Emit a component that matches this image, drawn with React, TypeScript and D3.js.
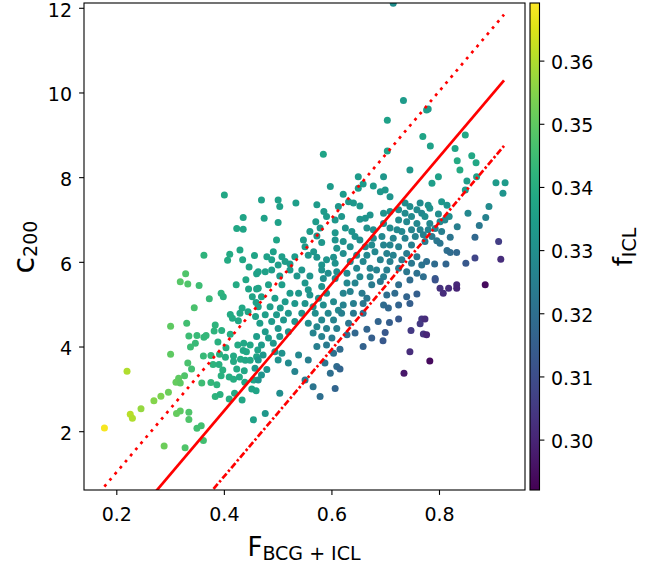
import React from 'react';
import * as d3 from 'd3';

// ---- data ----
const xTicks = [0.2, 0.4, 0.6, 0.8];
const yTicks = [2, 4, 6, 8, 10, 12];
const cbTicks = [0.30, 0.31, 0.32, 0.33, 0.34, 0.35, 0.36];
const xDomain = [0.139, 0.959];
const yDomain = [0.623, 12.125];
const cDomain = [0.2921, 0.3692];

// fit: c200 = slope * F + intercept (+/- scatter offset)
const fitSlope = 15.0;
const fitIntercept = -3.5;
const fitOffsets = [1.55, 0, -1.55];
const fitRange = [0.1, 0.92];

// [F_BCG+ICL, c200, f_ICL]
const points: [number, number, number][] = [
[0.400,7.59,0.338],[0.435,7.06,0.337],[0.423,6.80,0.338],[0.435,6.78,0.337],[0.429,6.29,0.338],[0.362,6.17,0.342],[0.410,6.19,0.339],[0.406,6.05,0.339],[0.434,6.06,0.338],[0.456,6.16,0.337],
[0.446,5.89,0.337],[0.460,5.73,0.336],[0.328,5.73,0.348],[0.318,5.54,0.349],[0.332,5.49,0.348],[0.353,5.45,0.345],[0.440,5.59,0.338],[0.422,5.47,0.339],[0.445,5.37,0.337],[0.460,5.37,0.336],
[0.372,5.14,0.344],[0.394,5.27,0.342],[0.398,5.19,0.341],[0.452,5.19,0.337],[0.459,5.05,0.336],[0.344,4.93,0.347],[0.433,4.92,0.338],[0.429,4.80,0.338],[0.411,4.77,0.339],[0.415,4.68,0.339],
[0.444,4.83,0.337],[0.458,4.72,0.336],[0.426,4.62,0.338],[0.300,4.49,0.350],[0.330,4.56,0.346],[0.383,4.52,0.342],[0.381,4.38,0.342],[0.395,4.39,0.341],[0.334,4.26,0.345],[0.349,4.27,0.344],
[0.362,4.23,0.343],[0.366,4.27,0.343],[0.346,4.09,0.344],[0.337,4.00,0.345],[0.411,4.30,0.340],[0.388,4.12,0.341],[0.403,3.98,0.340],[0.425,4.05,0.339],[0.436,4.09,0.338],[0.435,3.92,0.338],
[0.441,3.89,0.338],[0.448,4.05,0.338],[0.462,3.93,0.337],[0.300,3.83,0.350],[0.361,3.79,0.344],[0.375,3.80,0.343],[0.391,3.83,0.341],[0.402,3.76,0.340],[0.417,3.79,0.339],[0.430,3.71,0.339],
[0.439,3.69,0.338],[0.448,3.69,0.338],[0.460,3.77,0.337],[0.332,3.62,0.347],[0.339,3.48,0.346],[0.379,3.59,0.342],[0.390,3.59,0.341],[0.397,3.46,0.341],[0.417,3.66,0.339],[0.423,3.48,0.339],
[0.437,3.44,0.338],[0.326,3.32,0.348],[0.315,3.26,0.350],[0.310,3.17,0.351],[0.318,3.15,0.350],[0.358,3.15,0.345],[0.375,3.16,0.343],[0.386,3.11,0.342],[0.394,3.32,0.341],[0.409,3.29,0.340],
[0.417,3.24,0.340],[0.428,3.29,0.339],[0.438,3.17,0.338],[0.454,3.22,0.337],[0.451,3.01,0.337],[0.459,2.97,0.337],[0.296,2.93,0.352],[0.282,2.84,0.354],[0.269,2.73,0.355],[0.219,3.43,0.360],
[0.245,2.54,0.357],[0.225,2.41,0.361],[0.229,2.32,0.360],[0.177,2.09,0.368],[0.334,2.46,0.348],[0.318,2.49,0.350],[0.311,2.43,0.351],[0.334,2.29,0.348],[0.383,2.83,0.342],[0.392,2.88,0.341],
[0.409,2.77,0.340],[0.419,2.91,0.339],[0.433,2.75,0.338],[0.454,2.28,0.336],[0.349,2.08,0.346],[0.357,2.14,0.346],[0.361,1.79,0.346],[0.288,1.66,0.352],[0.327,1.62,0.348],
[0.597,7.79,0.334],[0.469,7.47,0.336],[0.500,7.47,0.336],[0.503,7.32,0.336],[0.533,7.40,0.335],[0.572,7.36,0.334],[0.585,7.20,0.334],[0.612,7.32,0.333],[0.590,7.08,0.334],[0.606,7.00,0.333],
[0.500,6.94,0.336],[0.570,6.96,0.334],[0.578,6.81,0.333],[0.559,6.73,0.334],[0.606,6.70,0.333],[0.572,6.62,0.333],[0.497,6.53,0.337],[0.547,6.53,0.334],[0.581,6.47,0.333],[0.606,6.53,0.332],
[0.550,6.37,0.334],[0.566,6.25,0.333],[0.609,6.33,0.332],[0.491,6.25,0.336],[0.479,6.13,0.336],[0.507,6.13,0.335],[0.531,6.13,0.334],[0.556,6.17,0.333],[0.572,6.12,0.332],[0.590,6.06,0.332],
[0.603,6.12,0.331],[0.488,6.06,0.336],[0.513,6.02,0.335],[0.522,5.96,0.334],[0.500,5.94,0.335],[0.581,5.94,0.332],[0.606,5.98,0.331],[0.463,5.78,0.336],[0.476,5.78,0.336],[0.488,5.82,0.335],
[0.522,5.82,0.334],[0.535,5.68,0.333],[0.544,5.82,0.333],[0.559,5.68,0.332],[0.581,5.82,0.331],[0.593,5.74,0.330],[0.609,5.78,0.330],[0.503,5.68,0.334],[0.584,5.62,0.330],[0.606,5.62,0.329],
[0.649,8.02,0.334],[0.696,8.02,0.333],[0.745,8.18,0.333],[0.621,7.61,0.334],[0.649,7.75,0.334],[0.690,7.67,0.333],[0.699,7.71,0.333],[0.708,7.55,0.332],[0.640,7.40,0.333],[0.631,7.43,0.333],
[0.652,7.33,0.333],[0.671,7.12,0.332],[0.618,7.08,0.333],[0.652,7.02,0.332],[0.662,7.04,0.332],[0.696,7.16,0.331],[0.708,7.20,0.331],[0.724,7.24,0.330],[0.736,7.40,0.330],[0.745,7.32,0.330],
[0.764,7.40,0.329],[0.758,7.24,0.329],[0.736,7.16,0.329],[0.748,7.08,0.329],[0.767,7.16,0.328],[0.724,7.00,0.329],[0.739,6.96,0.328],[0.758,6.92,0.328],[0.625,6.81,0.332],[0.637,6.73,0.332],
[0.643,6.61,0.331],[0.665,6.81,0.331],[0.677,6.77,0.330],[0.696,6.92,0.330],[0.708,6.81,0.329],[0.721,6.77,0.328],[0.730,6.73,0.328],[0.748,6.77,0.327],[0.764,6.77,0.326],[0.621,6.49,0.331],
[0.652,6.53,0.330],[0.677,6.57,0.329],[0.693,6.61,0.328],[0.714,6.57,0.327],[0.736,6.57,0.326],[0.755,6.61,0.326],[0.770,6.65,0.325],[0.634,6.37,0.330],[0.662,6.37,0.329],[0.674,6.41,0.329],
[0.696,6.41,0.327],[0.708,6.41,0.327],[0.724,6.37,0.326],[0.748,6.41,0.325],[0.621,6.21,0.330],[0.646,6.17,0.329],[0.665,6.17,0.328],[0.680,6.25,0.328],[0.702,6.21,0.326],[0.714,6.17,0.326],
[0.739,6.21,0.324],[0.758,6.13,0.323],[0.634,6.02,0.329],[0.658,6.02,0.328],[0.690,6.06,0.326],[0.708,6.02,0.325],[0.730,6.06,0.324],[0.748,5.98,0.323],[0.767,5.94,0.322],[0.646,5.86,0.328],
[0.671,5.86,0.327],[0.683,5.82,0.326],[0.702,5.82,0.325],[0.724,5.86,0.324],[0.739,5.78,0.323],[0.628,5.74,0.329],[0.652,5.66,0.328],[0.671,5.66,0.327],[0.696,5.66,0.325],[0.758,5.74,0.321],
[0.770,5.66,0.320],[0.658,7.85,0.334],[0.677,7.80,0.334],[0.474,7.04,0.336],
[0.776,9.60,0.335],[0.848,9.01,0.338],[0.783,8.75,0.336],[0.829,8.69,0.337],[0.860,8.52,0.338],[0.833,8.40,0.339],[0.868,8.35,0.338],[0.838,8.18,0.339],[0.798,8.02,0.336],[0.851,7.92,0.335],
[0.869,8.02,0.336],[0.905,7.88,0.334],[0.922,7.88,0.334],[0.786,7.87,0.335],[0.848,7.71,0.334],[0.918,7.63,0.332],[0.804,7.43,0.333],[0.779,7.35,0.331],[0.782,7.28,0.331],[0.814,7.35,0.332],
[0.892,7.32,0.329],[0.798,7.14,0.330],[0.818,7.08,0.330],[0.773,7.08,0.330],[0.853,7.16,0.328],[0.886,7.06,0.326],[0.782,6.92,0.328],[0.801,6.96,0.328],[0.810,7.00,0.328],[0.833,6.84,0.325],
[0.874,6.87,0.323],[0.779,6.77,0.326],[0.792,6.80,0.326],[0.804,6.73,0.325],[0.820,6.59,0.322],[0.786,6.61,0.324],[0.795,6.51,0.323],[0.773,6.49,0.324],[0.801,6.45,0.322],[0.866,6.59,0.318],
[0.910,6.49,0.306],[0.814,6.28,0.320],[0.820,6.23,0.319],[0.832,6.23,0.318],[0.866,6.10,0.308],[0.914,6.07,0.302],[0.776,6.02,0.320],[0.791,5.96,0.319],[0.812,5.96,0.317],[0.849,5.98,0.313],
[0.792,5.62,0.314],
[0.714,12.12,0.330],[0.733,9.82,0.334],[0.779,9.62,0.334],[0.703,9.355,0.336],[0.769,8.97,0.337],[0.584,8.55,0.337],[0.703,8.63,0.336],
[0.463,5.39,0.337],[0.482,5.47,0.336],[0.507,5.47,0.335],[0.550,5.51,0.333],[0.556,5.35,0.333],[0.581,5.43,0.331],[0.590,5.27,0.330],[0.522,5.27,0.334],[0.538,5.27,0.333],[0.559,5.23,0.332],
[0.575,5.15,0.331],[0.469,5.19,0.336],[0.494,5.15,0.335],[0.513,5.07,0.334],[0.531,5.03,0.333],[0.550,5.03,0.332],[0.565,4.95,0.331],[0.584,4.99,0.330],[0.603,5.07,0.329],[0.612,4.87,0.328],
[0.463,4.95,0.336],[0.485,4.95,0.335],[0.504,4.92,0.334],[0.476,4.76,0.335],[0.497,4.76,0.334],[0.519,4.80,0.333],[0.544,4.80,0.332],[0.569,4.80,0.330],[0.593,4.80,0.328],[0.581,4.64,0.328],
[0.603,4.64,0.327],[0.466,4.56,0.335],[0.488,4.60,0.334],[0.510,4.64,0.333],[0.531,4.60,0.332],[0.556,4.56,0.330],[0.572,4.48,0.328],[0.590,4.44,0.326],[0.609,4.44,0.325],[0.500,4.44,0.333],
[0.519,4.36,0.332],[0.476,4.36,0.334],[0.460,4.25,0.335],[0.482,4.21,0.334],[0.503,4.25,0.333],[0.565,4.33,0.327],[0.581,4.25,0.326],[0.600,4.21,0.324],[0.469,4.05,0.334],[0.491,4.09,0.333],
[0.572,4.01,0.325],[0.590,4.05,0.324],[0.494,3.89,0.332],[0.507,3.85,0.331],[0.472,3.81,0.333],[0.538,3.81,0.328],[0.603,3.85,0.321],[0.463,3.695,0.333],[0.500,3.695,0.331],[0.519,3.62,0.329],
[0.556,3.695,0.325],[0.587,3.62,0.322],[0.457,3.50,0.333],[0.479,3.47,0.332],[0.531,3.42,0.327],[0.597,3.38,0.320],[0.609,3.54,0.319],[0.469,3.34,0.332],[0.463,3.22,0.332],[0.550,3.22,0.324],
[0.565,3.06,0.322],[0.606,3.02,0.317],[0.503,2.91,0.330],[0.578,2.83,0.320],[0.476,2.43,0.333],
[0.628,5.51,0.328],[0.643,5.51,0.327],[0.674,5.47,0.324],[0.690,5.55,0.323],[0.724,5.47,0.320],[0.745,5.58,0.319],[0.621,5.27,0.327],[0.634,5.31,0.326],[0.656,5.27,0.324],[0.665,5.15,0.323],
[0.702,5.23,0.320],[0.717,5.27,0.319],[0.739,5.19,0.317],[0.758,5.25,0.315],[0.621,4.99,0.326],[0.640,5.03,0.325],[0.658,5.03,0.323],[0.696,4.99,0.319],[0.705,4.92,0.318],[0.724,4.99,0.317],
[0.745,5.03,0.315],[0.618,4.80,0.325],[0.640,4.80,0.323],[0.658,4.80,0.321],[0.631,4.56,0.322],[0.686,4.60,0.317],[0.707,4.58,0.315],[0.724,4.66,0.313],[0.767,4.66,0.304],[0.764,4.55,0.305],
[0.628,4.29,0.320],[0.643,4.33,0.318],[0.665,4.42,0.317],[0.699,4.34,0.313],[0.747,4.39,0.305],[0.770,4.31,0.303],[0.674,4.21,0.315],[0.695,4.15,0.313],[0.658,4.01,0.316],[0.615,3.95,0.319],
[0.745,3.89,0.302],[0.615,3.48,0.317],[0.734,3.38,0.297],
[0.792,5.58,0.312],[0.801,5.39,0.303],[0.807,5.27,0.302],[0.817,5.39,0.302],[0.832,5.47,0.301],[0.832,5.39,0.300],[0.885,5.47,0.294],[0.773,4.66,0.302],[0.776,4.29,0.300],[0.782,3.67,0.294],
];

// ---- layout ----
const W = 660, H = 567;
const plot = { left: 84, right: 525, top: 3, bottom: 490 };
const cbar = { left: 530, right: 539.5, top: 3, bottom: 490 };
const FONT = '"DejaVu Sans", sans-serif';
const tickFs = 19;
const labelFs = 26;
const subFs = 19;
const tickLen = 4.9;

export default function App() {
  const x = d3.scaleLinear().domain(xDomain).range([plot.left, plot.right]);
  const y = d3.scaleLinear().domain(yDomain).range([plot.bottom, plot.top]);
  const cs = d3.scaleLinear().domain(cDomain).range([cbar.bottom, cbar.top]);
  const color = d3.scaleSequential(d3.interpolateViridis).domain(cDomain);

  const fitLines = fitOffsets.map((off) =>
    d3.line<number>().x((f) => x(f)).y((f) => y(fitSlope * f + fitIntercept + off))(fitRange) as string
  );
  const dash = ['2.8,5.2', 'none', '6.5,2.4,2.4,2.4'];

  const stops = d3.range(0, 1.0001, 0.05);

  return (
    <svg width={W} height={H} style={{ position: 'absolute', left: 0, top: 0, background: '#fff' }}
      fontFamily={FONT}>
      <defs>
        <clipPath id="plotclip">
          <rect x={plot.left} y={plot.top} width={plot.right - plot.left} height={plot.bottom - plot.top} />
        </clipPath>
        <linearGradient id="cbgrad" x1="0" y1="1" x2="0" y2="0">
          {stops.map((t) => (
            <stop key={t} offset={t} stopColor={d3.interpolateViridis(t)} />
          ))}
        </linearGradient>
      </defs>
      <rect x={0} y={0} width={W} height={H} fill="#fff" />
      <g clipPath="url(#plotclip)">
        {points.map((p, i) => (
          <circle key={i} cx={x(p[0])} cy={y(p[1])} r={3.5} fill={color(p[2])} />
        ))}
        {fitLines.map((d, i) => (
          <path key={i} d={d} fill="none" stroke="#ff0000" strokeWidth={2.7}
            strokeDasharray={dash[i] === 'none' ? undefined : dash[i]} />
        ))}
      </g>
      {/* axes frame */}
      <rect x={plot.left} y={plot.top} width={plot.right - plot.left} height={plot.bottom - plot.top}
        fill="none" stroke="#000" strokeWidth={1.1} />
      {/* x ticks */}
      {xTicks.map((t) => (
        <g key={t}>
          <line x1={x(t)} x2={x(t)} y1={plot.bottom} y2={plot.bottom + tickLen} stroke="#000" strokeWidth={1.1} />
          <text x={x(t)} y={521} fontSize={tickFs} textAnchor="middle" fill="#000">{t.toFixed(1)}</text>
        </g>
      ))}
      {/* y ticks */}
      {yTicks.map((t) => (
        <g key={t}>
          <line x1={plot.left - tickLen} x2={plot.left} y1={y(t)} y2={y(t)} stroke="#000" strokeWidth={1.1} />
          <text x={72} y={y(t) + 0.36 * tickFs + 1.6} fontSize={tickFs} textAnchor="end" fill="#000">{t}</text>
        </g>
      ))}
      {/* axis labels */}
      <text x={304} y={556} fontSize={labelFs} textAnchor="middle" fill="#000">
        F<tspan fontSize={subFs} dy={4}>BCG + ICL</tspan>
      </text>
      <text transform={`translate(34,247) rotate(-90)`} fontSize={30} textAnchor="middle" fill="#000">
        c<tspan fontSize={subFs} dy={3}>200</tspan>
      </text>
      {/* colorbar */}
      <rect x={cbar.left} y={cbar.top} width={cbar.right - cbar.left} height={cbar.bottom - cbar.top} fill="url(#cbgrad)" />
      <rect x={cbar.left} y={cbar.top} width={cbar.right - cbar.left} height={cbar.bottom - cbar.top}
        fill="none" stroke="#000" strokeWidth={1.1} />
      {cbTicks.map((t) => (
        <g key={t}>
          <line x1={cbar.right} x2={cbar.right + tickLen} y1={cs(t)} y2={cs(t)} stroke="#000" strokeWidth={1.1} />
          <text x={551} y={cs(t) + 0.36 * tickFs + 1} fontSize={tickFs} fill="#000">{t.toFixed(2)}</text>
        </g>
      ))}
      <text transform={`translate(632,247) rotate(-90)`} fontSize={labelFs} textAnchor="middle" fill="#000">
        f<tspan fontSize={subFs} dy={4}>ICL</tspan>
      </text>
    </svg>
  );
}
